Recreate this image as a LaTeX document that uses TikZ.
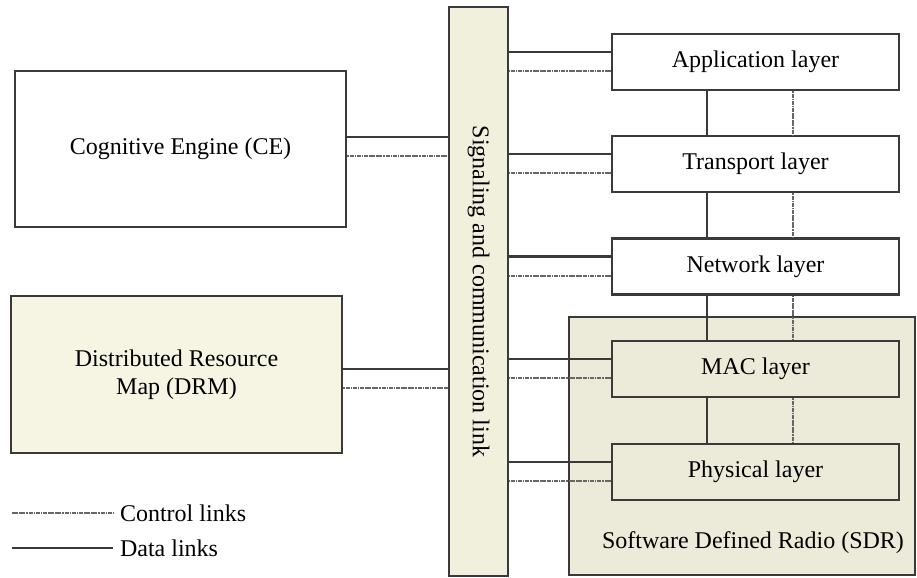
\documentclass[tikz,border=0pt]{standalone}
\usepackage{fontspec}
\setmainfont{Liberation Serif}
\usepackage{tikz}
\usetikzlibrary{calc}

\definecolor{linegray}{HTML}{3A3A3A}
\definecolor{dotgray}{HTML}{666666}
\definecolor{barfill}{HTML}{F1F0DD}
\definecolor{drmfill}{HTML}{F6F5E4}
\definecolor{sdrfill}{HTML}{ECEAD8}

\tikzset{
  box/.style={draw=linegray, line width=1.3pt, inner sep=0pt, align=center, font=\fontsize{12}{14}\selectfont},
  layerbox/.style={box, minimum width=143.5pt, minimum height=28pt},
  datalink/.style={draw=linegray, line width=1.1pt},
  ctrllink/.style={draw=dotgray, line width=1pt, dash pattern=on 0.8pt off 0.3pt on 2pt off 0.5pt}
}

\begin{document}
\begin{tikzpicture}[x=0.5pt, y=-0.5pt]
        % Size of the picture
        \useasboundingbox (0,0) rectangle (917,578);

        % The signaling bar
        \node[box, fill=barfill, minimum width=29.5pt, minimum height=284.5pt] (bar) at (478.5,291.5)
            {\rotatebox{-90}{Signaling and communication link}};

        % Left blocks
        \node[box, minimum width=165.5pt, minimum height=78pt] (ce) at (180.5,149) {Cognitive Engine (CE)};
        \node[box, fill=drmfill, minimum width=165.5pt, minimum height=78.5pt] (drm) at (176.5,374.5)
            {Distributed Resource\\Map (DRM)};

        % The SDR block (behind the two lower layers)
        \node[box, fill=sdrfill, minimum width=173pt, minimum height=129pt] (sdr) at (742,446) {};
        \node[font=\fontsize{12}{14}\selectfont] (sdrlabel) at (753,543) {Software Defined Radio (SDR)};

        % The layers
        \node[layerbox] (app) at (755.5,62) {Application layer};
        \node[layerbox] (trans) at (755.5,164) {Transport layer};
        \node[layerbox] (net) at (755.5,266.5) {Network layer};
        \node[layerbox, fill=sdrfill] (mac) at (755.5,369) {MAC layer};
        \node[layerbox, fill=sdrfill] (phys) at (755.5,472) {Physical layer};

        % Links between the layers
        \foreach \a/\b in {app/trans, trans/net, net/mac, mac/phys}{
            \draw[datalink] ([xshift=-24.25pt]\a.south) -- ([xshift=-24.25pt]\b.north);
            \draw[ctrllink] ([xshift=18.75pt]\a.south) -- ([xshift=18.75pt]\b.north);
        }

        % Links from the layers to the bar
        \foreach \l in {app, trans, net, mac, phys}{
            \draw[datalink] ([yshift=5pt]\l.west) -- ([yshift=5pt]\l.west -| bar.east);
            \draw[ctrllink] ([yshift=-4.5pt]\l.west) -- ([yshift=-4.5pt]\l.west -| bar.east);
        }

        % Links from the left blocks to the bar
        \draw[datalink] ([yshift=6pt]ce.east) -- ([yshift=6pt]ce.east -| bar.west);
        \draw[ctrllink] ([yshift=-3.5pt]ce.east) -- ([yshift=-3.5pt]ce.east -| bar.west);
        \draw[datalink] ([yshift=2.75pt]drm.east) -- ([yshift=2.75pt]drm.east -| bar.west);
        \draw[ctrllink] ([yshift=-6.75pt]drm.east) -- ([yshift=-6.75pt]drm.east -| bar.west);

        % Legend
        \coordinate (ctrlstart) at (12,513);
        \coordinate (datastart) at (12,548);
        \node[right, font=\fontsize{12}{14}\selectfont] (ctrltxt) at (113,513) {Control links};
        \node[right, font=\fontsize{12}{14}\selectfont] (datatxt) at (113,548) {Data links};
        \draw[ctrllink] (ctrlstart) -- (ctrltxt.west);
        \draw[datalink] (datastart) -- (datatxt.west);

    \end{tikzpicture}
\end{document}
